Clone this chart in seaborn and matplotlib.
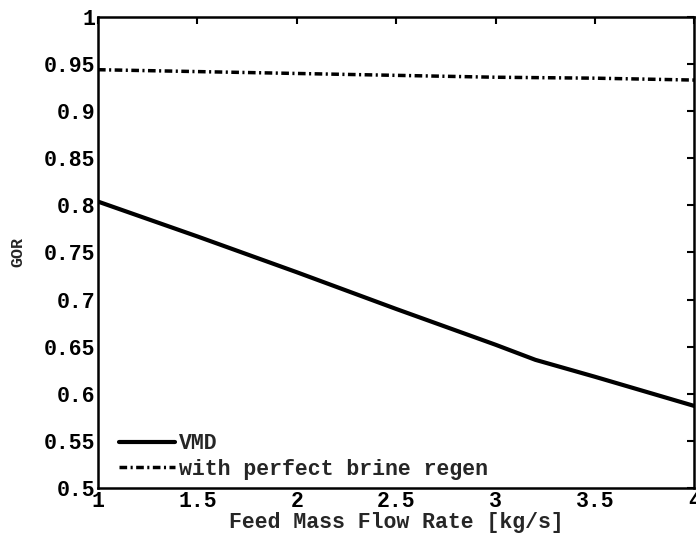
import matplotlib
matplotlib.use("Agg")
import matplotlib.pyplot as plt
import seaborn as sns
import pandas as pd

# Feed mass flow rate [kg/s] and gained output ratio for each configuration
flow_vmd = [1.0, 1.5, 2.0, 2.5, 3.0, 3.2, 3.5, 4.0]
gor_vmd = [0.804, 0.767, 0.729, 0.690, 0.652, 0.636, 0.618, 0.587]

flow_regen = [1.0, 1.5, 2.0, 2.5, 3.0, 3.5, 4.0]
gor_regen = [0.944, 0.942, 0.940, 0.938, 0.936, 0.935, 0.933]

label_vmd = "VMD"
label_regen = "with perfect brine regen"

x_ticks = [1, 1.5, 2, 2.5, 3, 3.5, 4]
x_tick_labels = ["1", "1.5", "2", "2.5", "3", "3.5", "4"]
y_ticks = [0.5, 0.55, 0.6, 0.65, 0.7, 0.75, 0.8, 0.85, 0.9, 0.95, 1.0]
y_tick_labels = ["0.5", "0.55", "0.6", "0.65", "0.7", "0.75", "0.8", "0.85", "0.9", "0.95", "1"]

sns.set_style("white")
plt.rcParams["font.family"] = ["Liberation Mono", "DejaVu Sans Mono"]
plt.rcParams["font.weight"] = "bold"

df_vmd = pd.DataFrame({"flow": flow_vmd, "gor": gor_vmd})
df_regen = pd.DataFrame({"flow": flow_regen, "gor": gor_regen})

fig = plt.figure(figsize=(6.96, 5.38), dpi=100)
ax = fig.add_axes([0.1408, 0.093, 0.857, 0.8755])

sns.lineplot(data=df_vmd, x="flow", y="gor", ax=ax, color="black",
             linewidth=3.0, label=label_vmd)
sns.lineplot(data=df_regen, x="flow", y="gor", ax=ax, color="black",
             linewidth=2.5, label=label_regen, dashes=False)
ax.lines[1].set_dashes([2.2, 1.0, 0.6, 1.0])

ax.set_xlim(1, 4)
ax.set_ylim(0.5, 1.0)
ax.set_xticks(x_ticks)
ax.set_xticklabels(x_tick_labels)
ax.set_yticks(y_ticks)
ax.set_yticklabels(y_tick_labels)

ax.tick_params(direction="in", length=5, width=1.5, top=True, right=True,
               labelsize=15.5, pad=2, colors="black")
for lab in ax.get_xticklabels() + ax.get_yticklabels():
    lab.set_fontweight("bold")
for sp in ax.spines.values():
    sp.set_linewidth(1.8)
    sp.set_color("black")

ax.set_xlabel("Feed Mass Flow Rate [kg/s]", fontsize=15.5, fontweight="bold", labelpad=0)
ax.set_ylabel("GOR", fontsize=12, fontweight="bold", labelpad=13)

leg = ax.legend(loc="lower left", bbox_to_anchor=(0.017, -0.005), frameon=False,
                fontsize=15.5, handlelength=2.6, handletextpad=0.2,
                borderaxespad=0.2, labelspacing=0.2, borderpad=0.3)
leg.get_lines()[1].set_dashes([2.2, 1.0, 0.6, 1.0])
for t in leg.get_texts():
    t.set_fontweight("bold")

fig.savefig("out.png", dpi=100)
